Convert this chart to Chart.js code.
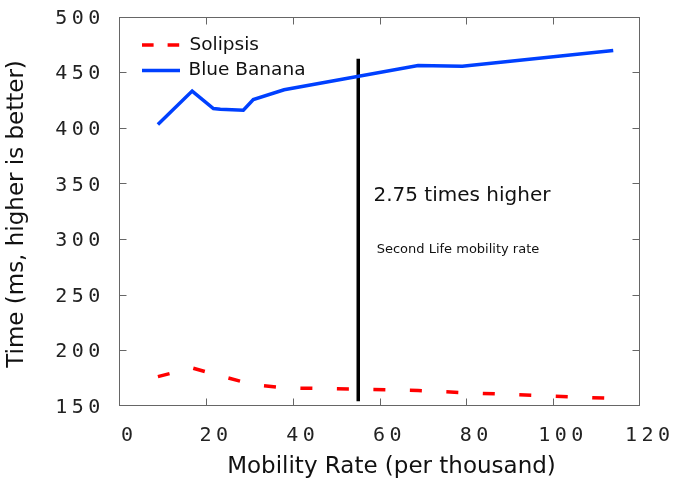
<!DOCTYPE html>
<html>
<head>
<meta charset="utf-8">
<script src="https://cdn.jsdelivr.net/npm/chart.js@4/dist/chart.umd.min.js"></script>
<style>
  body { margin: 0; background: #fff; }
</style>
</head>
<body>
<canvas id="mobilityChart" width="673" height="480"></canvas>
<script>
// values
const mobility = [8.9, 16.8, 21.7, 23.3, 28.6, 30.9, 38, 68.9, 79.1, 113.9];
const solipsis = [176.2, 184, 178.5, 176.8, 171.3, 168.9, 166.1, 163.7, 161.8, 156.5];
const blueBanana = [403, 433, 417.3, 416.7, 415.8, 425.3, 434.2, 456, 455.4, 469.5];
const markerX = [55.1, 55.1];
const markerY = [154, 462];
const xTicks = [0, 20, 40, 60, 80, 100, 120];
const yTicks = [150, 200, 250, 300, 350, 400, 450, 500];

const toPoints = (xs, ys) => xs.map((x, i) => ({ x: x, y: ys[i] }));

// box with inward ticks, titles, legend and notes
const decorations = {
  id: 'decorations',
  beforeDraw(chart) {
    // tick numbers are spread out in the original
    chart.ctx.letterSpacing = '4.5px';
  },
  afterDraw(chart) {
    const ctx = chart.ctx;
    const area = chart.chartArea;
    const xs = chart.scales.x;
    const ys = chart.scales.y;
    ctx.save();
    ctx.letterSpacing = '0px';

    const l = Math.round(area.left) + 0.5, r = Math.round(area.right) - 0.5;
    const t = Math.round(area.top) + 0.5, b = Math.round(area.bottom) - 0.5;
    ctx.strokeStyle = '#666';
    ctx.lineWidth = 1;
    ctx.strokeRect(l, t, r - l, b - t);
    ctx.beginPath();
    xTicks.slice(1, -1).forEach(v => {
      const px = Math.round(xs.getPixelForValue(v)) + 0.5;
      ctx.moveTo(px, b); ctx.lineTo(px, b - 7);
      ctx.moveTo(px, t); ctx.lineTo(px, t + 7);
    });
    yTicks.slice(1, -1).forEach(v => {
      const py = Math.round(ys.getPixelForValue(v)) + 0.5;
      ctx.moveTo(l, py); ctx.lineTo(l + 7, py);
      ctx.moveTo(r, py); ctx.lineTo(r - 7, py);
    });
    ctx.stroke();

    ctx.fillStyle = '#111';
    ctx.textBaseline = 'middle';
    ctx.textAlign = 'center';
    ctx.font = '23px "DejaVu Sans"';
    ctx.fillText('Mobility Rate (per thousand)', 391.5, 467.5);
    ctx.save();
    ctx.translate(17, 214);
    ctx.rotate(-Math.PI / 2);
    ctx.fillText('Time (ms, higher is better)', 0, 0);
    ctx.restore();

    // notes next to the marker line
    ctx.textAlign = 'left';
    ctx.font = '20px "DejaVu Sans"';
    ctx.fillText('2.75 times higher', xs.getPixelForValue(58.6), ys.getPixelForValue(338.6));
    ctx.font = '13px "DejaVu Sans"';
    ctx.fillText('Second Life mobility rate', xs.getPixelForValue(59.35), ys.getPixelForValue(290.7));

    // legend
    ctx.lineWidth = 3.5;
    ctx.strokeStyle = '#ff0000';
    ctx.setLineDash([11.6, 14]);
    ctx.beginPath(); ctx.moveTo(142, 45); ctx.lineTo(180, 45); ctx.stroke();
    ctx.setLineDash([]);
    ctx.strokeStyle = '#0040ff';
    ctx.beginPath(); ctx.moveTo(142, 70.5); ctx.lineTo(180, 70.5); ctx.stroke();
    ctx.font = '18.5px "DejaVu Sans"';
    ctx.fillText('Solipsis', 189.5, 45);
    ctx.fillText('Blue Banana', 188.5, 70.5);
    ctx.restore();
  }
};

new Chart(document.getElementById('mobilityChart'), {
  type: 'line',
  data: {
    datasets: [
      {
        label: 'Solipsis',
        data: toPoints(mobility, solipsis),
        borderColor: '#ff0000',
        borderWidth: 3.5,
        borderDash: [12, 24.5],
        pointRadius: 0,
        tension: 0
      },
      {
        label: 'Blue Banana',
        data: toPoints(mobility, blueBanana),
        borderColor: '#0040ff',
        borderWidth: 3.5,
        pointRadius: 0,
        tension: 0
      },
      {
        label: 'marker',
        data: toPoints(markerX, markerY),
        borderColor: '#000',
        borderWidth: 3.5,
        pointRadius: 0
      }
    ]
  },
  options: {
    responsive: false,
    animation: false,
    devicePixelRatio: 1,
    layout: { padding: { top: 16.6, right: 33.3, bottom: 0, left: 0 } },
    plugins: { legend: { display: false }, tooltip: { enabled: false } },
    scales: {
      x: {
        type: 'linear',
        min: 0,
        max: 120,
        afterFit: (scale) => {
          scale.height = 74.3;
          scale.paddingLeft = 0;
          scale.paddingRight = 0;
        },
        afterBuildTicks: (scale) => { scale.ticks = xTicks.map(v => ({ value: v })); },
        grid: { display: false, drawTicks: false },
        border: { display: false },
        ticks: { padding: 18, labelOffset: 10, color: '#222', font: { family: 'DejaVu Sans Mono', size: 20 }, maxRotation: 0 }
      },
      y: {
        type: 'linear',
        min: 150,
        max: 500,
        afterFit: (scale) => {
          scale.width = 119.3;
          scale.paddingTop = 0;
          scale.paddingBottom = 0;
        },
        afterBuildTicks: (scale) => { scale.ticks = yTicks.map(v => ({ value: v })); },
        grid: { display: false, drawTicks: false },
        border: { display: false },
        ticks: { padding: 14.5, labelOffset: 2, color: '#222', font: { family: 'DejaVu Sans Mono', size: 20 } }
      }
    }
  },
  plugins: [decorations]
});
</script>
</body>
</html>
